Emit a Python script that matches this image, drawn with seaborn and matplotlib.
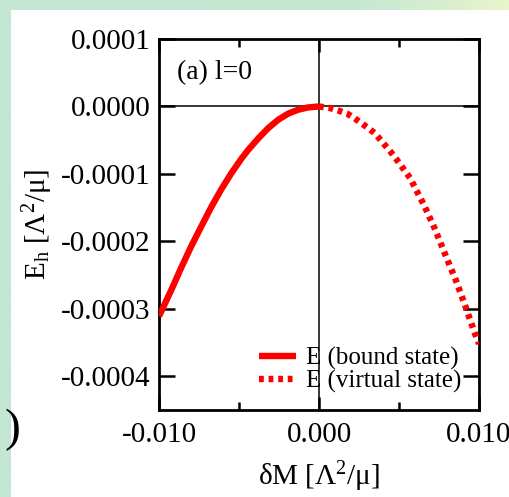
import numpy as np
import pandas as pd
import matplotlib
matplotlib.use("Agg")
import matplotlib.pyplot as plt
from matplotlib.patches import Rectangle
from matplotlib.colors import LinearSegmentedColormap
from matplotlib.ticker import FixedLocator, MultipleLocator
import seaborn as sns

# values
dm_bound = [-0.0100, -0.00923, -0.00861, -0.00798, -0.00736, -0.00673, -0.00611, -0.00548,
            -0.00486, -0.00444, -0.00381, -0.00319, -0.00256, -0.00194, -0.00131, -0.00069, 0.0]
e_bound = [-0.000311, -0.000272, -0.000239, -0.000207, -0.000178, -0.000149, -0.000123,
           -0.0000990, -0.0000778, -0.0000648, -0.0000478, -0.0000325, -0.0000199,
           -0.0000108, -0.0000049, -0.0000015, 0.0]
dm_virtual = [0.0, 0.00069, 0.00125, 0.00177, 0.00221, 0.00263, 0.00308, 0.0035, 0.00402,
              0.0045, 0.00486, 0.00569, 0.00658, 0.00725, 0.00788, 0.00856, 0.00913,
              0.00975, 0.0100]
e_virtual = [0.0, -0.0000024, -0.0000064, -0.0000108, -0.0000172, -0.0000246, -0.0000320,
             -0.0000400, -0.0000545, -0.0000680, -0.0000790, -0.000106, -0.000147,
             -0.000182, -0.000219, -0.000258, -0.000295, -0.000337, -0.000352]

xticks = [-0.010, 0.000, 0.010]
xtick_labels = ["-0.010", "0.000", "0.010"]
yticks = [0.0001, 0.0, -0.0001, -0.0002, -0.0003, -0.0004]
ytick_labels = ["0.0001", "0.0000", "-0.0001", "-0.0002", "-0.0003", "-0.0004"]

sns.set_theme(style="ticks")
plt.rcParams["font.family"] = ["Liberation Serif", "DejaVu Serif"]
plt.rcParams["mathtext.fontset"] = "custom"
plt.rcParams["mathtext.rm"] = "Liberation Serif"
plt.rcParams["mathtext.it"] = "Liberation Serif:italic"
plt.rcParams["axes.unicode_minus"] = False
for key in ["text.color", "axes.labelcolor", "xtick.color", "ytick.color",
            "xtick.labelcolor", "ytick.labelcolor"]:
    plt.rcParams[key] = "black"

df_b = pd.DataFrame({"dM": dm_bound, "E": e_bound})
df_v = pd.DataFrame({"dM": dm_virtual, "E": e_virtual})

fig = plt.figure(figsize=(5.10, 4.97), dpi=100)
fig.patch.set_facecolor("#c3e7d3")

# slide background: mint on the left fading to pale yellow on the top right
bg = fig.add_axes([0, 0, 1, 1], zorder=-20)
slide_cmap = LinearSegmentedColormap.from_list("slide", ["#c3e7d3", "#c6e8d2", "#e9f5cc"])
bg.imshow(np.linspace(0, 1, 256)[None, :] ** 2, cmap=slide_cmap, aspect="auto",
          extent=[0, 1, 0, 1])
bg.add_patch(Rectangle((11 / 510, 0), 1, 1 - 10 / 497, facecolor="white",
                       edgecolor="none"))
bg.set_xlim(0, 1)
bg.set_ylim(0, 1)
bg.axis("off")
fig.text(0.008, 0.135, ")", fontsize=34, color="black", ha="left", va="center")

ax = fig.add_axes([159 / 510, 1 - 410 / 497, 320 / 510, 371 / 497])
ax.set_zorder(5)
ax.set_facecolor("white")

ax.axhline(0, color="black", lw=1.1, zorder=1)
ax.axvline(0, color="black", lw=1.1, zorder=1)

sns.lineplot(data=df_b, x="dM", y="E", ax=ax, color="#ff0000", lw=4.6,
             label="E (bound state)", zorder=3)
sns.lineplot(data=df_v, x="dM", y="E", ax=ax, color="#ff0000", lw=4.6,
             label="E (virtual state)", zorder=3)
ax.lines[-1].set_linestyle((0, (0.75, 0.75)))
ax.lines[-1].set_dash_capstyle("butt")
ax.lines[-2].set_solid_capstyle("butt")

ax.set_xlim(-0.010, 0.010)
ax.set_ylim(-0.00045, 0.0001)
ax.xaxis.set_major_locator(FixedLocator(xticks))
ax.set_xticklabels(xtick_labels)
ax.xaxis.set_minor_locator(MultipleLocator(0.005))
ax.yaxis.set_major_locator(FixedLocator(yticks))
ax.set_yticklabels(ytick_labels)

ax.tick_params(axis="both", which="both", direction="in", top=True, right=True,
               colors="black", labelsize=21)
ax.tick_params(axis="x", which="major", length=9.5, width=1.8, pad=9)
ax.tick_params(axis="x", which="minor", length=6, width=1.8)
ax.tick_params(axis="y", which="major", length=11.5, width=1.8, pad=6)
for s in ax.spines.values():
    s.set_linewidth(2.0)
    s.set_color("black")
    s.set_visible(True)

ax.set_xlabel("δM [Λ$^{2}$/μ]", fontsize=21, labelpad=8)
ax.set_ylabel("E$_\\mathrm{h}$ [Λ$^{2}$/μ]", fontsize=21, labelpad=4)

ax.text(0.056, 0.91, "(a) l=0", transform=ax.transAxes, fontsize=20,
        ha="left", va="center")

leg = ax.legend(loc="lower right", frameon=False, fontsize=18, handlelength=1.5,
                handletextpad=0.4, labelspacing=0.0, borderpad=0, borderaxespad=0,
                bbox_to_anchor=(0.945, 0.045))
for t in leg.get_texts():
    t.set_color("black")

fig.savefig("out.png", dpi=100, facecolor=fig.get_facecolor())
